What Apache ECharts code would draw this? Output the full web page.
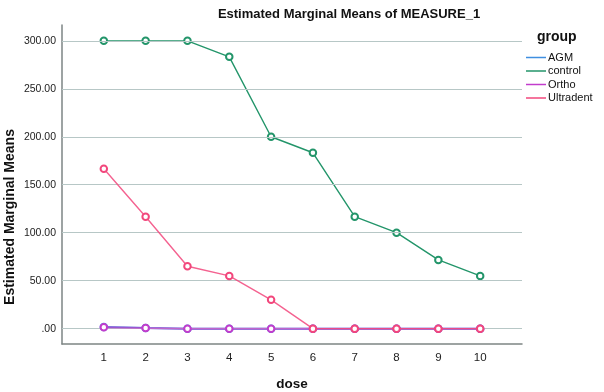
<!DOCTYPE html>
<html>
<head>
<meta charset="utf-8">
<script src="https://cdn.jsdelivr.net/npm/echarts@6/dist/echarts.min.js"></script>
<style>
  html, body { margin: 0; padding: 0; background: #fff; }
  #chart { width: 604px; height: 392px; }
</style>
</head>
<body>
<div id="chart"></div>
<script>
// --- Data ---
const doses = [1, 2, 3, 4, 5, 6, 7, 8, 9, 10];
const groups = ['AGM', 'control', 'Ortho', 'Ultradent'];
const agm = [1.7, 0.8, 0, 0, 0, 0, 0, 0, 0, 0];
const control = [300, 300, 300, 283.33, 200, 183.33, 116.67, 100, 71.67, 55];
const ortho = [1.5, 0.6, 0, 0, 0, 0, 0, 0, 0, 0];
const ultradent = [166.67, 116.67, 65, 55, 30, 0, 0, 0, 0, 0];
const yTicks = [0, 50, 100, 150, 200, 250, 300];

const colors = ['#3f8fe0', '#23956a', '#c23ccc', '#f2477c'];
const seriesValues = [agm, control, ortho, ultradent];
const opacities = [1, 1, 0.7, 0.85];
const font = 'Liberation Sans, Arial, sans-serif';

const chart = echarts.init(document.getElementById('chart'));

const series = groups.map((name, i) => ({
    name: name,
    type: 'line',
    data: doses.map((d, j) => [d, seriesValues[i][j]]),
    symbol: 'emptyCircle',
    symbolSize: 6.5,
    color: colors[i],
    lineStyle: { width: name === 'AGM' || name === 'Ortho' ? 2 : 1.4, opacity: opacities[i] },
    itemStyle: { borderWidth: 0.9 },
    emphasis: { disabled: true },
    z: 3 + i
}));

// gridlines at the labelled values
series.push({
    type: 'line',
    data: [],
    silent: true,
    z: 1,
    markLine: {
        silent: true,
        symbol: 'none',
        label: { show: false },
        lineStyle: { color: '#b7c7c6', type: 'solid', width: 1.2 },
        data: yTicks.map(v => ({ yAxis: v }))
    }
});

chart.setOption({
    animation: false,
    textStyle: { fontFamily: font },
    title: {
        text: 'Estimated Marginal Means of MEASURE_1',
        left: 344,
        textAlign: 'center',
        top: 3,
        textStyle: { fontSize: 13, fontWeight: 'bold', color: '#111', fontFamily: font }
    },
    grid: { left: 62, right: 82, top: 25, bottom: 48, outerBoundsMode: 'none', containLabel: false },
    legend: {
        data: groups,
        orient: 'vertical',
        left: 521,
        top: 47,
        icon: 'rect',
        itemWidth: 20,
        itemHeight: 1.5,
        itemGap: 2.5,
        textStyle: { fontSize: 11, color: '#111', fontFamily: font, padding: [0, 0, 0, -3] }
    },
    graphic: [
        {
            type: 'text', left: 537, top: 30,
            style: { text: 'group', font: 'bold 14px ' + font, fill: '#111' }
        },
        {
            type: 'text', x: 3, y: 217, rotation: Math.PI / 2,
            style: { text: 'Estimated Marginal Means', font: 'bold 14px ' + font, fill: '#111', align: 'center', verticalAlign: 'top' }
        }
    ],
    xAxis: {
        type: 'value',
        min: 0,
        max: 11,
        interval: 1,
        name: 'dose',
        nameLocation: 'middle',
        nameGap: 33,
        nameTextStyle: { fontSize: 13.5, fontWeight: 'bold', color: '#111', fontFamily: font },
        axisLine: { onZero: false, lineStyle: { color: '#7d8584', width: 1.5 } },
        axisTick: { show: false },
        splitLine: { show: false },
        axisLabel: {
            fontSize: 11.5, color: '#222', margin: 8,
            formatter: v => (v >= 1 && v <= 10 ? String(v) : '')
        }
    },
    yAxis: {
        type: 'value',
        min: -16,
        max: 316.5,
        axisLine: { show: true, onZero: false, lineStyle: { color: '#7d8584', width: 1.5 } },
        axisTick: { show: false },
        splitLine: { show: false },
        axisLabel: {
            customValues: yTicks,
            fontSize: 10.5, color: '#222', margin: 6,
            formatter: v => (v === 0 ? '.00' : v.toFixed(2))
        }
    },
    series: series
});
</script>
</body>
</html>
